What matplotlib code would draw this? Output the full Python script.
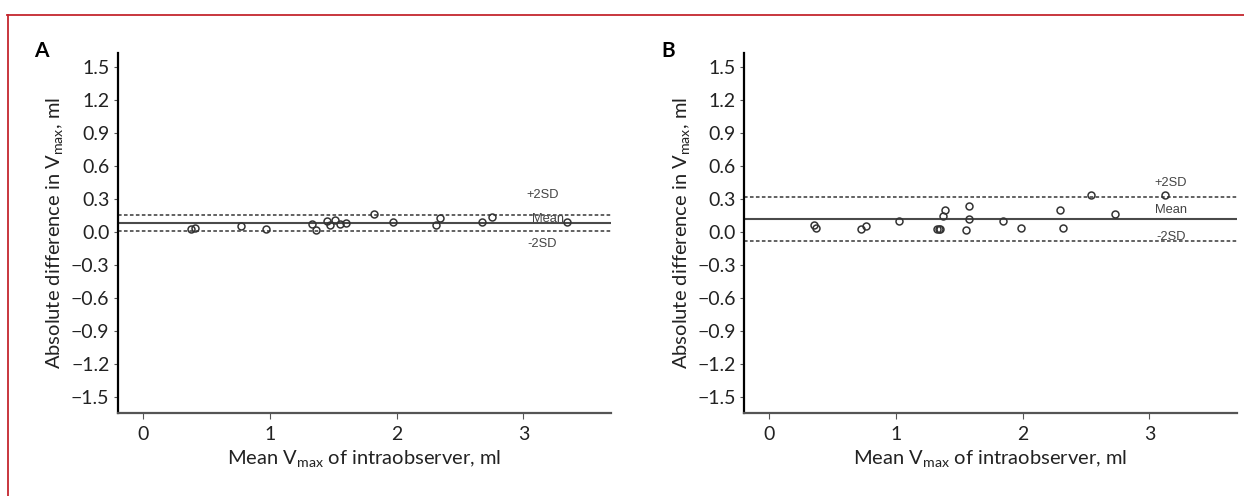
import matplotlib
matplotlib.use("Agg")
import matplotlib.pyplot as plt
from matplotlib.lines import Line2D

plt.rcParams['font.family'] = ['Lato', 'DejaVu Sans']
plt.rcParams['mathtext.default'] = 'regular'

# Panel A: intraobserver agreement, first set
mean_a = [0.38, 0.41, 0.77, 0.97, 1.33, 1.36, 1.45, 1.47, 1.51, 1.55, 1.60,
          1.82, 1.97, 2.31, 2.34, 2.67, 2.75, 3.34]
diff_a = [0.03, 0.04, 0.057, 0.03, 0.07, 0.018, 0.097, 0.06, 0.11, 0.07, 0.08,
          0.164, 0.094, 0.067, 0.13, 0.09, 0.14, 0.09]
limits_a = {'+2SD': 0.152, 'Mean': 0.079, '-2SD': 0.012}
label_pos_a = {'+2SD': (3.15, 0.34), 'Mean': (3.19, 0.12), '-2SD': (3.15, -0.105)}

# Panel B: second set
mean_b = [0.355, 0.367, 0.722, 0.766, 1.02, 1.32, 1.335, 1.35, 1.372, 1.382,
          1.573, 1.573, 1.55, 1.844, 1.985, 2.296, 2.315, 2.54, 2.726, 3.12]
diff_b = [0.061, 0.036, 0.03, 0.052, 0.10, 0.03, 0.03, 0.03, 0.145, 0.20,
          0.24, 0.118, 0.018, 0.10, 0.04, 0.20, 0.04, 0.34, 0.16, 0.34]
limits_b = {'+2SD': 0.315, 'Mean': 0.115, '-2SD': -0.079}
label_pos_b = {'+2SD': (3.17, 0.45), 'Mean': (3.17, 0.20), '-2SD': (3.17, -0.042)}

yticks = [1.5, 1.2, 0.9, 0.6, 0.3, 0.0, -0.3, -0.6, -0.9, -1.2, -1.5]
xticks = [0, 1, 2, 3]

fig = plt.figure(figsize=(12.44, 4.96), dpi=100)

# red frame along top and left
fig.add_artist(Line2D([7 / 1244, 1], [1 - 15 / 496, 1 - 15 / 496], color='#c4262e', lw=1.3,
                      transform=fig.transFigure))
fig.add_artist(Line2D([8 / 1244, 8 / 1244], [0, 1 - 15 / 496], color='#c4262e', lw=1.3,
                      transform=fig.transFigure))


def bland_altman(ax, x, y, limits, label_pos, letter):
    ax.axhline(limits['+2SD'], color='#555555', lw=1.3, ls=(0, (2, 1.3)), zorder=1)
    ax.axhline(limits['-2SD'], color='#555555', lw=1.3, ls=(0, (2, 1.3)), zorder=1)
    ax.axhline(limits['Mean'], color='#4a4a4a', lw=1.5, zorder=1)
    ax.plot(x, y, 'o', ms=5, mfc='none', mec='#333333', mew=1.1, zorder=3)
    for key, (tx, ty) in label_pos.items():
        ax.text(tx, ty, key, ha='center', va='center', fontsize=9.3,
                family=['Liberation Sans', 'DejaVu Sans'], color='#444444')

    ax.set_xlim(-0.2, 3.69)
    ax.set_ylim(-1.64, 1.63)
    ax.set_xticks(xticks)
    ax.set_yticks(yticks)
    ax.set_yticklabels([f'{v:.1f}'.replace('-', '\u2212') for v in yticks])
    for s in ['top', 'right']:
        ax.spines[s].set_visible(False)
    ax.spines['left'].set_color('black')
    ax.spines['left'].set_linewidth(1.6)
    ax.spines['bottom'].set_color('#555555')
    ax.spines['bottom'].set_linewidth(1.6)
    ax.tick_params(axis='y', length=3, width=0.8, color='#555555', pad=3,
                   labelsize=14, labelcolor='#222222')
    ax.tick_params(axis='x', length=4, width=0.8, color='#555555', pad=5.5,
                   labelsize=14, labelcolor='#222222')
    ax.set_xlabel(r'Mean V$_{max}$ of intraobserver, ml', fontsize=14.5,
                  color='#222222', labelpad=4)
    ax.set_ylabel(r'Absolute difference in V$_{max}$, ml', fontsize=14.5,
                  color='#222222', labelpad=4)
    ax.text(-0.155, 1.005, letter, transform=ax.transAxes, fontsize=15,
            fontweight='bold', ha='center', va='center', color='black')


ax_a = fig.add_axes([0.0947, 0.168, 0.3964, 0.726])
bland_altman(ax_a, mean_a, diff_a, limits_a, label_pos_a, 'A')

ax_b = fig.add_axes([0.5982, 0.168, 0.396, 0.726])
bland_altman(ax_b, mean_b, diff_b, limits_b, label_pos_b, 'B')

fig.savefig('out.png', dpi=100, facecolor='white')
